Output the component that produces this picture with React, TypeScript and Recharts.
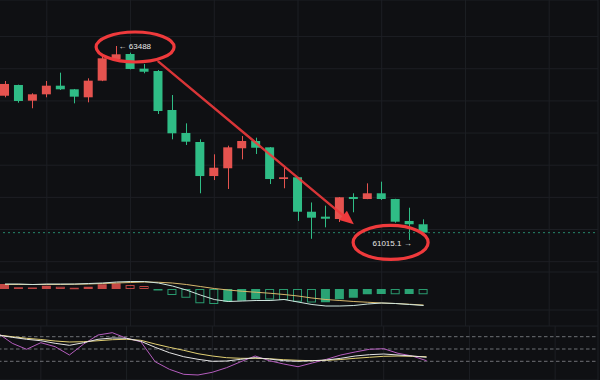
import { ComposedChart, Bar, Line, XAxis, YAxis, CartesianGrid, ReferenceLine, ReferenceDot } from 'recharts';

// hourly slots, the last 12 are still empty (space on the right of the chart)
const times = [
  '06-10 09:00', '06-10 10:00', '06-10 11:00', '06-10 12:00', '06-10 13:00', '06-10 14:00',
  '06-10 15:00', '06-10 16:00', '06-10 17:00', '06-10 18:00', '06-10 19:00', '06-10 20:00',
  '06-10 21:00', '06-10 22:00', '06-10 23:00', '06-11 00:00', '06-11 01:00', '06-11 02:00',
  '06-11 03:00', '06-11 04:00', '06-11 05:00', '06-11 06:00', '06-11 07:00', '06-11 08:00',
  '06-11 09:00', '06-11 10:00', '06-11 11:00', '06-11 12:00', '06-11 13:00', '06-11 14:00',
  '06-11 15:00', '06-11 16:00', '06-11 17:00', '06-11 18:00', '06-11 19:00', '06-11 20:00',
  '06-11 21:00', '06-11 22:00', '06-11 23:00', '06-12 00:00', '06-12 01:00', '06-12 02:00',
  '06-12 03:00',
];
const gridTimes = ['06-10 12:00', '06-10 18:00', '06-11 00:00', '06-11 06:00', '06-11 12:00', '06-11 18:00', '06-12 00:00'];

const opens = [62854, 62991, 62791, 62872, 62982, 62936, 62834, 63046, 63322, 63386, 63199, 63169, 62672, 62379, 62264, 61830, 61929, 62184, 62277, 62196, 61792, 61814, 61375, 61312, 61282, 61563, 61537, 61610, 61537, 61257, 61215];
const highs = [63042, 62995, 62885, 63042, 63148, 62940, 63076, 63348, 63488, 63403, 63258, 63182, 62863, 62502, 62298, 62107, 62217, 62340, 62319, 62200, 61936, 61818, 61493, 61452, 61562, 61610, 61737, 61758, 61540, 61426, 61278];
const lows = [62834, 62765, 62694, 62834, 62927, 62757, 62770, 63040, 63320, 63190, 63140, 62621, 62298, 62226, 61610, 61779, 61665, 62043, 62111, 61728, 61674, 61257, 61030, 61176, 61244, 61368, 61535, 61525, 61235, 61015.1, 61108];
const closes = [63004, 62787, 62872, 62982, 62936, 62842, 63046, 63331, 63382, 63195, 63160, 62659, 62375, 62268, 61830, 61936, 62196, 62277, 62191, 61792, 61814, 61375, 61299, 61286, 61559, 61537, 61610, 61537, 61248, 61215, 61108];

const priceTicks = [64018, 63813, 63608, 63403, 63198, 62993, 62788, 62583, 62378, 62173, 61968, 61763, 61558, 61353, 61148, 60943, 60738];

// MACD
const dif = [20, 20, 18, 20, 20, 20, 22, 24, 28, 30, 30, 24, 12, -4, -24, -42, -50, -48, -46, -46, -42, -52, -62, -68, -68, -66, -60, -56, -58, -62, -66];
const dea = [18, 18, 18, 18, 18, 19, 20, 22, 24, 26, 28, 27, 24, 18, 10, 2, -4, -9, -13, -17, -22, -28, -36, -42, -46, -50, -53, -56, -58, -61, -64];
const hist = [20, 7, 6, 13, 9, 5, 9, 19, 23, 16, 12, -5, -24, -35, -57, -60, -51, -47, -41, -42, -44, -51, -54, -53, -41, -35, -21, -20, -21, -20, -21];

// KDJ
const kLine = [84.1, 78.5, 73.7, 70.2, 63.9, 59.0, 65.4, 73.7, 76.8, 76.1, 68.8, 54.1, 41.0, 31.2, 24.9, 20.0, 20.7, 24.9, 28.8, 25.6, 21.5, 20.0, 21.5, 23.2, 27.3, 32.9, 36.1, 37.8, 35.4, 32.9, 29.8];
const dLine = [84.1, 80.0, 76.1, 73.2, 69.5, 67.1, 67.8, 70.2, 72.7, 73.7, 71.2, 62.2, 54.1, 46.8, 38.5, 32.9, 28.8, 27.3, 27.3, 26.3, 23.9, 22.4, 21.5, 22.4, 24.4, 27.3, 29.8, 32.2, 32.9, 32.2, 31.2];
const jLine = [88.3, 63.9, 49.3, 65.4, 55.6, 35.4, 62.2, 84.1, 89.8, 76.1, 67.8, 19.0, 0.5, -11.7, -13.4, -6.8, 4.4, 19.0, 32.9, 21.5, 13.4, 6.8, 15.9, 24.9, 35.4, 42.7, 49.3, 50.7, 39.5, 32.9, 21.5];
const kdjLevels = [80, 50, 20];

const BG = '#0f1013';
const GRID = '#1d1f24';
const RED = '#e5534f';
const GREEN = '#2fbd86';
const MARK = '#ef3a3c';

const rows = times.map((t, i) => ({
  t,
  open: opens[i],
  high: highs[i],
  low: lows[i],
  close: closes[i],
  range: i < opens.length ? [lows[i], highs[i]] : null,
  dif: dif[i],
  dea: dea[i],
  hist: hist[i],
  k: kLine[i],
  d: dLine[i],
  j: jLine[i],
}));

const maxIdx = highs.indexOf(Math.max(...highs));
const minIdx = lows.indexOf(Math.min(...lows));
const lastPrice = closes[closes.length - 1];

const Candle = (props: any) => {
  const { x, y, width, height, payload } = props;
  if (!payload || payload.open == null) return null;
  const top = Math.min(y, y + height);
  const h = Math.abs(height);
  const span = payload.high - payload.low;
  const k = span > 0 ? h / span : 0;
  const yO = top + (payload.high - payload.open) * k;
  const yC = top + (payload.high - payload.close) * k;
  const color = payload.close >= payload.open ? RED : GREEN;
  const cx = Math.round(x + width / 2) + 0.5;
  return (
    <g>
      <line x1={cx} x2={cx} y1={top} y2={top + h} stroke={color} strokeWidth={1} />
      <rect x={x} y={Math.min(yO, yC)} width={width} height={Math.max(1, Math.abs(yO - yC))} fill={color} />
    </g>
  );
};

const HistBar = (props: any) => {
  const { x, y, width, height, index, payload } = props;
  if (!payload || payload.hist == null) return null;
  const v = payload.hist;
  const prev = index > 0 ? hist[index - 1] : -Infinity;
  const filled = v > prev;
  const color = v >= 0 ? RED : GREEN;
  const top = Math.min(y, y + height);
  const h = Math.max(1, Math.abs(height));
  if (filled) return <rect x={x} y={top} width={width} height={h} fill={color} fillOpacity={0.85} />;
  return <rect x={x + 0.5} y={top + 0.5} width={width - 1} height={Math.max(0.5, h - 1)} fill="none" stroke={color} strokeOpacity={0.8} strokeWidth={1} />;
};

const HighMark = (props: any) => {
  const { cx, cy } = props;
  return (
    <g>
      <text x={cx + 2} y={cy + 0.5} fill="#e8e8e8" fontSize={8} fontFamily="Liberation Sans, Arial, sans-serif" dominantBaseline="central">
        {'\u2190 ' + highs[maxIdx]}
      </text>
      <ellipse cx={cx + 18.5} cy={cy + 1} rx={39} ry={15} fill="none" stroke={MARK} strokeWidth={3.2} />
    </g>
  );
};

const LowMark = (props: any) => {
  const { cx, cy } = props;
  return (
    <g>
      <text x={cx + 2} y={cy + 3.5} fill="#e8e8e8" fontSize={8} fontFamily="Liberation Sans, Arial, sans-serif" dominantBaseline="central" textAnchor="end">
        {lows[minIdx] + ' \u2192'}
      </text>
      <ellipse cx={cx - 19} cy={cy + 2.5} rx={37.5} ry={17} fill="none" stroke={MARK} strokeWidth={3.2} />
    </g>
  );
};

const Arrow = (props: any) => {
  const { x1, y1, x2, y2 } = props;
  const ang = Math.atan2(y2 - y1, x2 - x1);
  const len = 14;
  const half = 6;
  const bx = x2 - len * Math.cos(ang);
  const by = y2 - len * Math.sin(ang);
  const px = -Math.sin(ang) * half;
  const py = Math.cos(ang) * half;
  return (
    <g>
      <line x1={x1} y1={y1} x2={bx} y2={by} stroke={MARK} strokeWidth={2.4} strokeOpacity={0.9} strokeLinecap="round" />
      <polygon points={`${x2},${y2} ${bx + px},${by + py} ${bx - px},${by - py}`} fill={MARK} />
    </g>
  );
};

const chartMargin = { top: 0, right: 2, bottom: 0, left: -2 };

export default function App() {
  return (
    <div style={{ position: 'fixed', left: 0, top: 0, width: 600, height: 380, background: BG, overflow: 'hidden' }}>
      <div style={{ position: 'absolute', left: 0, top: 0 }}>
        <ComposedChart width={600} height={272} data={rows} margin={chartMargin}>
          <CartesianGrid stroke={GRID} strokeWidth={1} />
          <XAxis dataKey="t" hide ticks={gridTimes} />
          <YAxis hide domain={[60606.5, 64074.5]} ticks={priceTicks} type="number" allowDataOverflow />
          <ReferenceLine y={lastPrice} stroke="#26876a" strokeDasharray="2 3" strokeWidth={1} />
          <Bar dataKey="range" shape={Candle} barSize={9} isAnimationActive={false} />
          <ReferenceLine
            segment={[{ x: times[11], y: 63288 }, { x: times[25], y: 61215 }]}
            shape={Arrow}
            ifOverflow="visible"
          />
          <ReferenceDot x={times[maxIdx]} y={highs[maxIdx]} shape={HighMark} ifOverflow="visible" />
          <ReferenceDot x={times[minIdx]} y={lows[minIdx]} shape={LowMark} ifOverflow="visible" />
        </ComposedChart>
      </div>
      <div style={{ position: 'absolute', left: 0, top: 272 }}>
        <ComposedChart width={600} height={54} data={rows} margin={chartMargin}>
          <CartesianGrid stroke={GRID} strokeWidth={1} />
          <XAxis dataKey="t" hide ticks={gridTimes} />
          <YAxis hide domain={[-148, 68]} ticks={[0, -84]} type="number" allowDataOverflow />
          <Bar dataKey="hist" shape={HistBar} barSize={9} isAnimationActive={false} />
          <Line dataKey="dea" stroke="#d8b86c" strokeWidth={1} dot={false} isAnimationActive={false} />
          <Line dataKey="dif" stroke="#cfe6df" strokeWidth={1} dot={false} isAnimationActive={false} />
        </ComposedChart>
      </div>
      <div style={{ position: 'absolute', left: 0, top: 326 }}>
        <ComposedChart width={600} height={54} data={rows} margin={chartMargin}>
          <CartesianGrid stroke={GRID} strokeWidth={1} />
          <XAxis dataKey="t" hide ticks={gridTimes} />
          <YAxis hide domain={[-25.6, 106.1]} ticks={[100]} type="number" allowDataOverflow />
          {kdjLevels.map((lv) => (
            <ReferenceLine key={lv} y={lv} stroke="#6e7076" strokeDasharray="3.5 2.5" strokeWidth={1} />
          ))}
          <Line dataKey="j" stroke="#b45cbd" strokeWidth={1} dot={false} isAnimationActive={false} />
          <Line dataKey="d" stroke="#e2d073" strokeWidth={1} dot={false} isAnimationActive={false} />
          <Line dataKey="k" stroke="#e4e4e4" strokeWidth={1} dot={false} isAnimationActive={false} />
        </ComposedChart>
      </div>
    </div>
  );
}
